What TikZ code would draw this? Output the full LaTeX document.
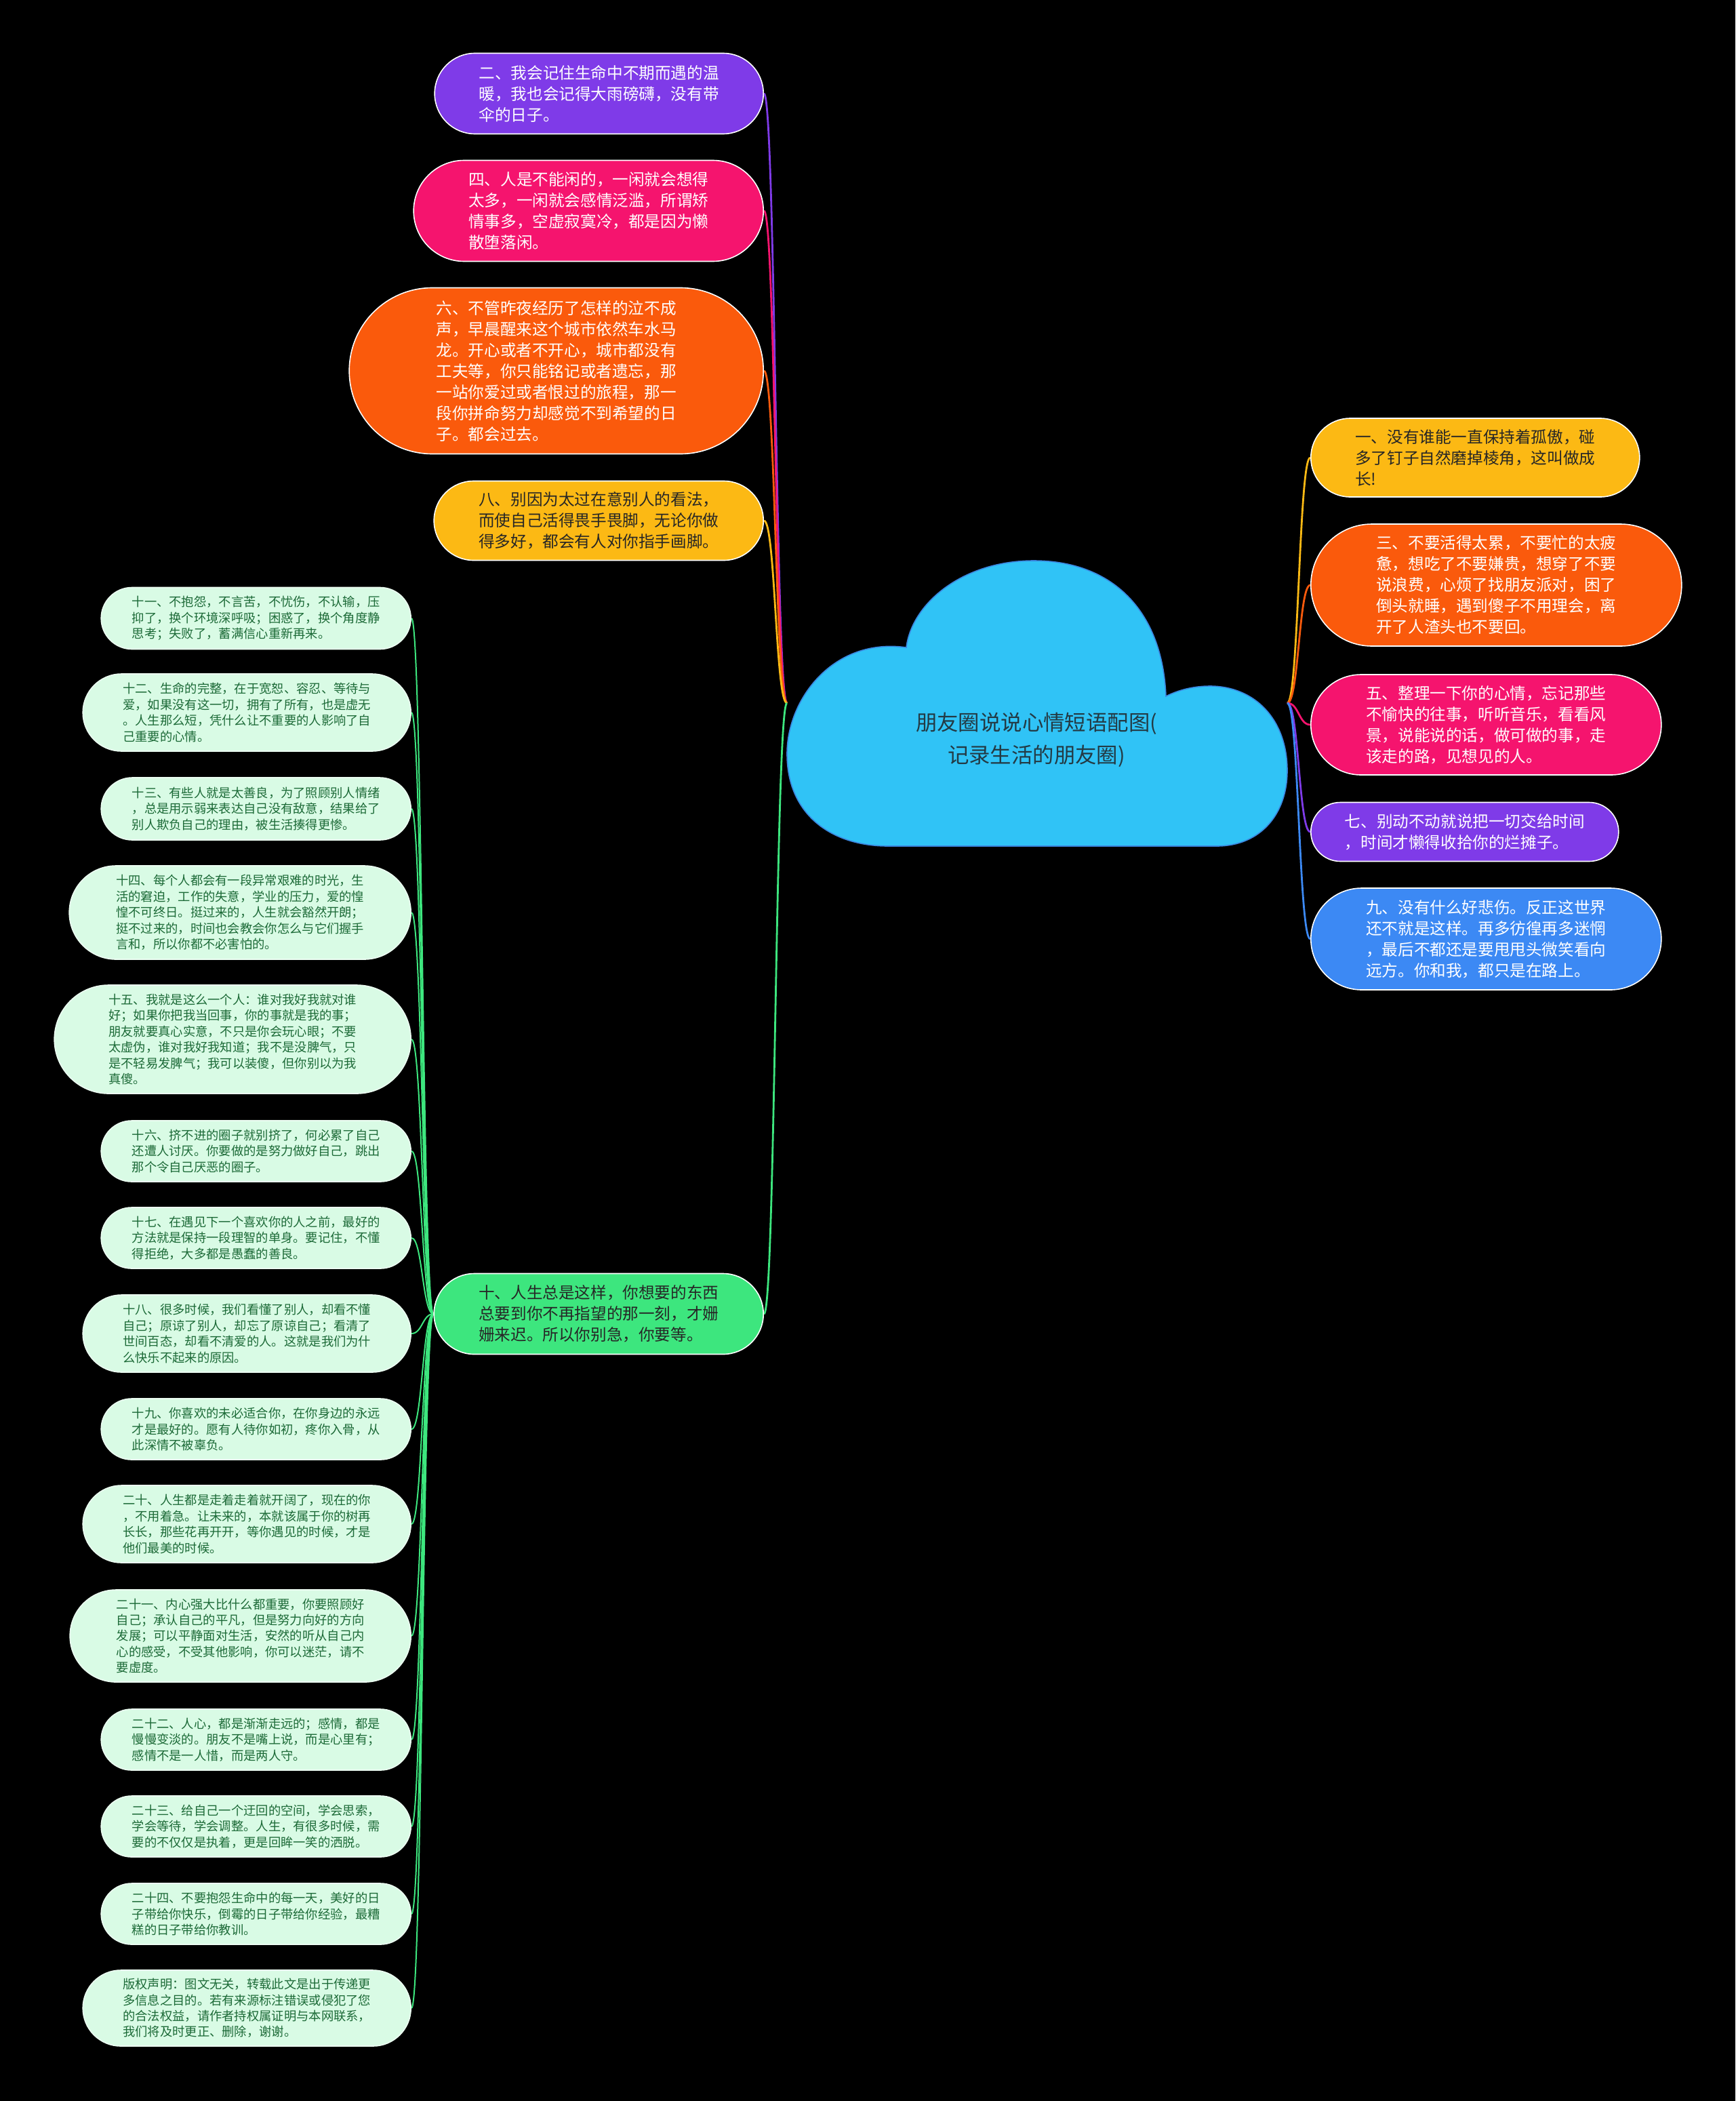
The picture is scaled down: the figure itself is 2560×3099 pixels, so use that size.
\documentclass[tikz,border=0pt]{standalone}
\usepackage{fontspec}
\setmainfont{Noto Sans CJK SC}
\usetikzlibrary{shapes.misc,calc}
\definecolor{cPurple}{HTML}{7F3BE8}
\definecolor{cPink}{HTML}{F5146E}
\definecolor{cOrange}{HTML}{FA5A0C}
\definecolor{cAmber}{HTML}{FCB914}
\definecolor{cBlue}{HTML}{3C89F4}
\definecolor{cGreen}{HTML}{3DE67E}
\definecolor{cMint}{HTML}{D9FBE5}
\definecolor{cCloud}{HTML}{30C3F6}
\definecolor{cCloudEdge}{HTML}{3A86E0}
\definecolor{cDarkGreen}{HTML}{1C6A37}
\definecolor{cTitle}{HTML}{233A44}
\definecolor{cDark}{HTML}{262626}
\pgfdeclarelayer{back}
\pgfdeclarelayer{links}
\pgfsetlayers{back,links,main}
\tikzset{
  pill/.style={rounded rectangle, inner sep=0pt, draw=white, line width=0.8pt, align=left},
  bigpill/.style={pill, font=\fontsize{11.8}{15.5}\selectfont},
  smallpill/.style={pill, fill=cMint, draw=cMint!50!white, text=cDarkGreen, font=\fontsize{9.15}{11.7}\selectfont, anchor=east},
  link/.style={line width=1.4pt, to path={(\tikztostart) .. controls ($(\tikztostart -| \tikztotarget)!0.5!(\tikztostart)$) and ($(\tikztotarget -| \tikztostart)!0.5!(\tikztotarget)$) .. (\tikztotarget)}},
  sublink/.style={link, line width=1pt, cGreen},
}
\begin{document}
\begin{tikzpicture}[x=0.5pt,y=-0.5pt]
\useasboundingbox (0,0) rectangle (2560,3099);
\begin{pgfonlayer}{back}
\fill[black] (0,0) rectangle (2560,3099);
\end{pgfonlayer}

% cloud
\filldraw[fill=cCloud, draw=cCloudEdge, line width=0.8pt]
  (1310,1248) -- (1795,1248)
  .. controls (1860,1248) and (1899,1200) .. (1899,1137)
  .. controls (1899,1060) and (1850,1012) .. (1785,1012)
  .. controls (1760,1012) and (1738,1018) .. (1720,1027)
  .. controls (1715,900) and (1640,827) .. (1525,827)
  .. controls (1420,827) and (1345,890) .. (1337,955)
  .. controls (1230,940) and (1162,1030) .. (1161,1110)
  .. controls (1160,1200) and (1225,1248) .. (1310,1248) -- cycle;
\node[align=center, text=cTitle, font=\fontsize{15.7}{24}\selectfont] (root) at (1529,1091) {朋友圈说说心情短语配图(\\记录生活的朋友圈)};
\coordinate (cl) at (1161,1037);
\coordinate (cr) at (1899,1037);

% left main branches
\node[bigpill, fill=cPurple, text=white, minimum width=242.5pt, minimum height=59.5pt, anchor=east] (n2) at (1127,138) {二、我会记住生命中不期而遇的温\\暖，我也会记得大雨磅礴，没有带\\伞的日子。};
\node[bigpill, fill=cPink, text=white, minimum width=258pt, minimum height=74.5pt, anchor=east] (n4) at (1127,311) {四、人是不能闲的，一闲就会想得\\太多，一闲就会感情泛滥，所谓矫\\情事多，空虚寂寞冷，都是因为懒\\散堕落闲。};
\node[bigpill, fill=cOrange, text=white, minimum width=305.5pt, minimum height=122.5pt, anchor=east] (n6) at (1127,547) {六、不管昨夜经历了怎样的泣不成\\声，早晨醒来这个城市依然车水马\\龙。开心或者不开心，城市都没有\\工夫等，你只能铭记或者遗忘，那\\一站你爱过或者恨过的旅程，那一\\段你拼命努力却感觉不到希望的日\\子。都会过去。};
\node[bigpill, fill=cAmber, text=cDark, minimum width=243pt, minimum height=58.5pt, anchor=east] (n8) at (1127,768) {八、别因为太过在意别人的看法，\\而使自己活得畏手畏脚，无论你做\\得多好，都会有人对你指手画脚。};
\node[bigpill, fill=cGreen, text=cDark, minimum width=243pt, minimum height=59.5pt, anchor=east] (n10) at (1127,1938) {十、人生总是这样，你想要的东西\\总要到你不再指望的那一刻，才姗\\姗来迟。所以你别急，你要等。};

% right main branches
\node[bigpill, fill=cAmber, text=cDark, minimum width=242.5pt, minimum height=58pt, anchor=west] (n1) at (1933,675) {一、没有谁能一直保持着孤傲，碰\\多了钉子自然磨掉棱角，这叫做成\\长!};
\node[bigpill, fill=cOrange, text=white, minimum width=273.5pt, minimum height=90pt, anchor=west] (n3) at (1933,863) {三、不要活得太累，不要忙的太疲\\惫，想吃了不要嫌贵，想穿了不要\\说浪费，心烦了找朋友派对，困了\\倒头就睡，遇到傻子不用理会，离\\开了人渣头也不要回。};
\node[bigpill, fill=cPink, text=white, minimum width=258.5pt, minimum height=74pt, anchor=west] (n5) at (1933,1069) {五、整理一下你的心情，忘记那些\\不愉快的往事，听听音乐，看看风\\景，说能说的话，做可做的事，走\\该走的路，见想见的人。};
\node[bigpill, fill=cPurple, text=white, minimum width=227pt, minimum height=43.5pt, anchor=west] (n7) at (1933,1227) {七、别动不动就说把一切交给时间\\，时间才懒得收拾你的烂摊子。};
\node[bigpill, fill=cBlue, text=white, minimum width=258.5pt, minimum height=75pt, anchor=west] (n9) at (1933,1385) {九、没有什么好悲伤。反正这世界\\还不就是这样。再多彷徨再多迷惘\\，最后不都还是要甩甩头微笑看向\\远方。你和我，都只是在路上。};

% sub branches of 十
\node[smallpill, minimum width=228.5pt, minimum height=45.5pt] (n11) at (607,912) {十一、不抱怨，不言苦，不忧伤，不认输，压\\抑了，换个环境深呼吸；困惑了，换个角度静\\思考；失败了，蓄满信心重新再来。};
\node[smallpill, minimum width=242pt, minimum height=57pt] (n12) at (607,1051) {十二、生命的完整，在于宽恕、容忍、等待与\\爱，如果没有这一切，拥有了所有，也是虚无\\。人生那么短，凭什么让不重要的人影响了自\\己重要的心情。};
\node[smallpill, minimum width=228.5pt, minimum height=46pt] (n13) at (607,1193) {十三、有些人就是太善良，为了照顾别人情绪\\，总是用示弱来表达自己没有敌意，结果给了\\别人欺负自己的理由，被生活揍得更惨。};
\node[smallpill, minimum width=252pt, minimum height=69pt] (n14) at (607,1346) {十四、每个人都会有一段异常艰难的时光，生\\活的窘迫，工作的失意，学业的压力，爱的惶\\惶不可终日。挺过来的，人生就会豁然开朗；\\挺不过来的，时间也会教会你怎么与它们握手\\言和，所以你都不必害怕的。};
\node[smallpill, minimum width=263pt, minimum height=80pt] (n15) at (607,1533) {十五、我就是这么一个人：谁对我好我就对谁\\好；如果你把我当回事，你的事就是我的事；\\朋友就要真心实意，不只是你会玩心眼；不要\\太虚伪，谁对我好我知道；我不是没脾气，只\\是不轻易发脾气；我可以装傻，但你别以为我\\真傻。};
\node[smallpill, minimum width=228.5pt, minimum height=45pt] (n16) at (607,1698) {十六、挤不进的圈子就别挤了，何必累了自己\\还遭人讨厌。你要做的是努力做好自己，跳出\\那个令自己厌恶的圈子。};
\node[smallpill, minimum width=228.5pt, minimum height=45pt] (n17) at (607,1826) {十七、在遇见下一个喜欢你的人之前，最好的\\方法就是保持一段理智的单身。要记住，不懂\\得拒绝，大多都是愚蠢的善良。};
\node[smallpill, minimum width=242pt, minimum height=57pt] (n18) at (607,1967) {十八、很多时候，我们看懂了别人，却看不懂\\自己；原谅了别人，却忘了原谅自己；看清了\\世间百态，却看不清爱的人。这就是我们为什\\么快乐不起来的原因。};
\node[smallpill, minimum width=228.5pt, minimum height=45pt] (n19) at (607,2108) {十九、你喜欢的未必适合你，在你身边的永远\\才是最好的。愿有人待你如初，疼你入骨，从\\此深情不被辜负。};
\node[smallpill, minimum width=242pt, minimum height=57pt] (n20) at (607,2248) {二十、人生都是走着走着就开阔了，现在的你\\，不用着急。让未来的，本就该属于你的树再\\长长，那些花再开开，等你遇见的时候，才是\\他们最美的时候。};
\node[smallpill, minimum width=251.5pt, minimum height=68pt] (n21) at (607,2413) {二十一、内心强大比什么都重要，你要照顾好\\自己；承认自己的平凡，但是努力向好的方向\\发展；可以平静面对生活，安然的听从自己内\\心的感受，不受其他影响，你可以迷茫，请不\\要虚度。};
\node[smallpill, minimum width=228.5pt, minimum height=45pt] (n22) at (607,2566) {二十二、人心，都是渐渐走远的；感情，都是\\慢慢变淡的。朋友不是嘴上说，而是心里有；\\感情不是一人惜，而是两人守。};
\node[smallpill, minimum width=228.5pt, minimum height=45pt] (n23) at (607,2694) {二十三、给自己一个迂回的空间，学会思索，\\学会等待，学会调整。人生，有很多时候，需\\要的不仅仅是执着，更是回眸一笑的洒脱。};
\node[smallpill, minimum width=228.5pt, minimum height=45pt] (n24) at (607,2823) {二十四、不要抱怨生命中的每一天，美好的日\\子带给你快乐，倒霉的日子带给你经验，最糟\\糕的日子带给你教训。};
\node[smallpill, minimum width=242pt, minimum height=56pt] (nc) at (607,2962) {版权声明：图文无关，转载此文是出于传递更\\多信息之目的。若有来源标注错误或侵犯了您\\的合法权益，请作者持权属证明与本网联系，\\我们将及时更正、删除，谢谢。};

\begin{pgfonlayer}{links}
\draw[link, cPurple] (cl) to (n2.east);
\draw[link, cPink] (cl) to (n4.east);
\draw[link, cOrange] (cl) to (n6.east);
\draw[link, cAmber] (cl) to (n8.east);
\draw[link, cGreen] (cl) to (n10.east);
\draw[link, cAmber] (cr) to (n1.west);
\draw[link, cOrange] (cr) to (n3.west);
\draw[link, cPink] (cr) to (n5.west);
\draw[link, cPurple] (cr) to (n7.west);
\draw[link, cBlue] (cr) to (n9.west);
\foreach \n in {n11,n12,n13,n14,n15,n16,n17,n18,n19,n20,n21,n22,n23,n24,nc}
  \draw[sublink] (n10.west) to (\n.east);
\end{pgfonlayer}
\end{tikzpicture}
\end{document}
